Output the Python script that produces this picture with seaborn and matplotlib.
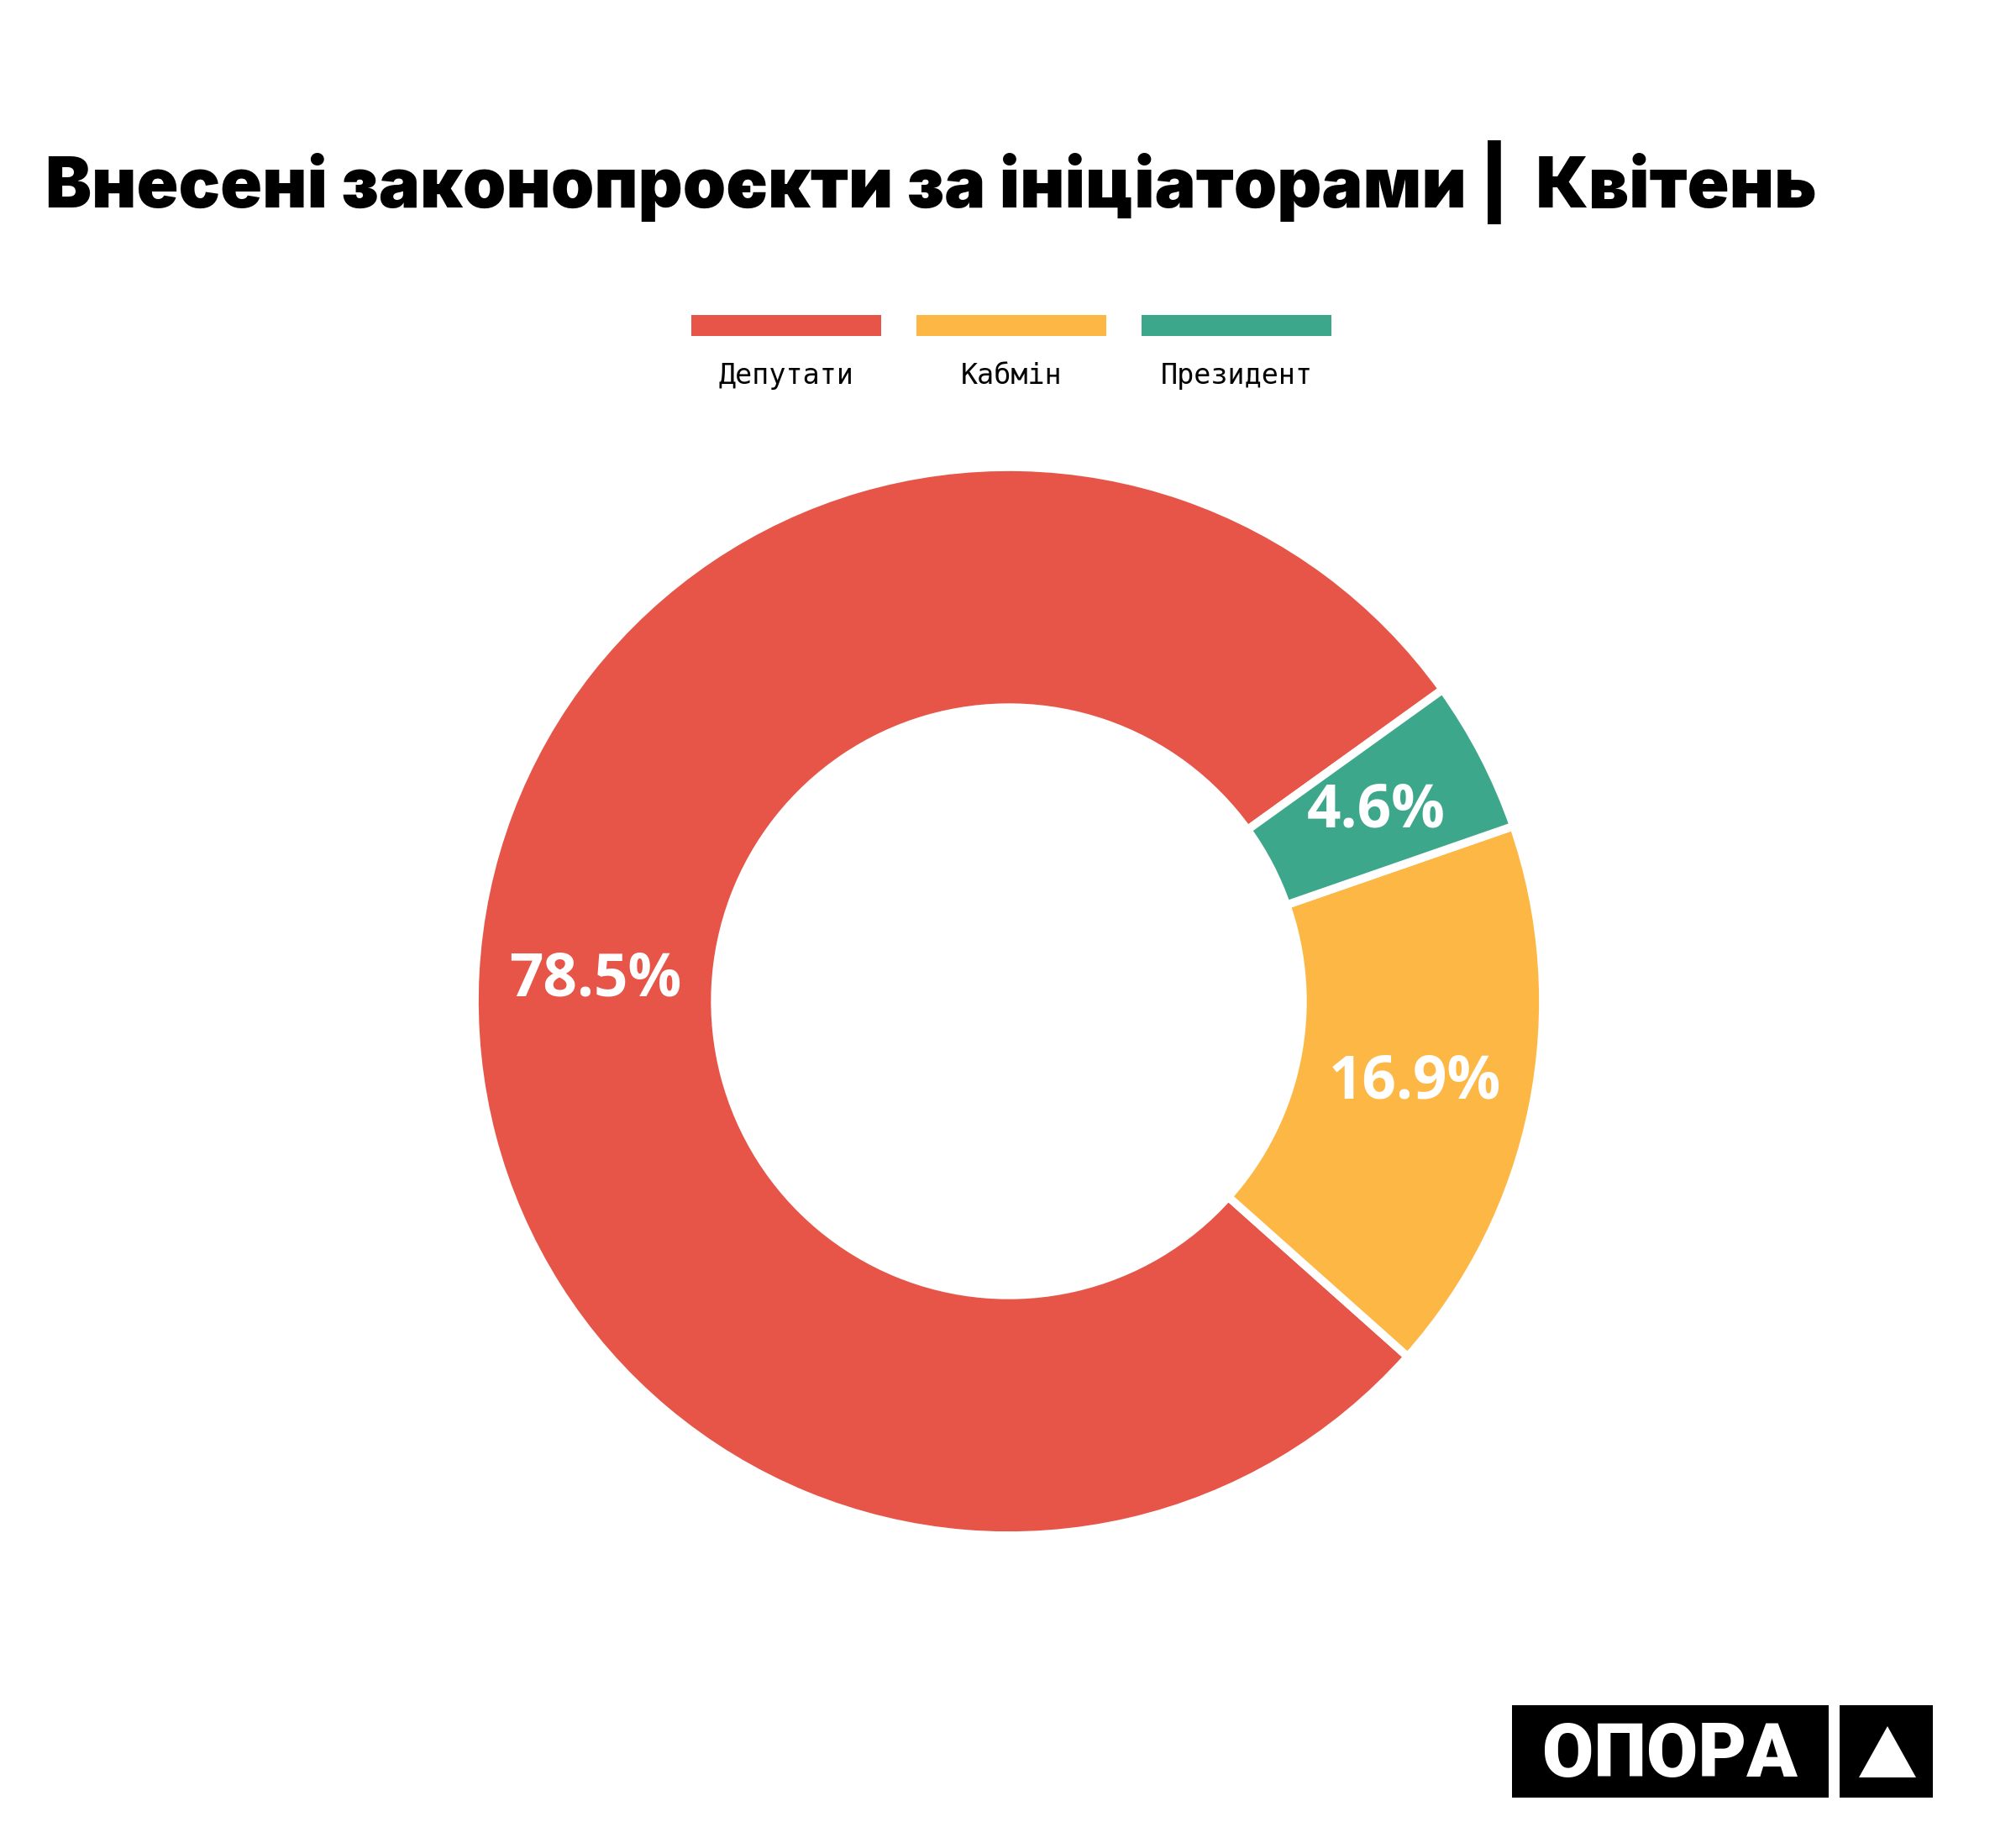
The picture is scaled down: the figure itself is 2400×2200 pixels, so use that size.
import matplotlib
matplotlib.use("Agg")
import matplotlib.pyplot as plt
from matplotlib.patches import Rectangle, Polygon
import seaborn as sns

# data
categories = ["Депутати", "Кабмін", "Президент"]
shares = [78.5, 16.9, 4.6]
colors = ["#E65548", "#FDB745", "#3DA78B"]

title = "Внесені законопроєкти за ініціаторами |  Квітень"

sns.set_theme(style="white")
plt.rcParams['font.family'] = ['DejaVu Sans']

W, H = 2400, 2200
fig = plt.figure(figsize=(W / 100, H / 100), dpi=100)
fig.patch.set_facecolor("white")

# donut
cx, cy, r = 1201, 1192, 636
ax = fig.add_axes([(cx - r) / W, (H - cy - r) / H, 2 * r / W, 2 * r / H])
wedges, texts, autotexts = ax.pie(
    shares,
    colors=sns.color_palette(colors),
    startangle=35.7,
    counterclock=True,
    autopct="%.1f%%",
    pctdistance=0.775,
    wedgeprops=dict(width=0.45, edgecolor="white", linewidth=7),
    textprops=dict(color="white", fontsize=51, fontweight="bold",
                   family=["Open Sans", "DejaVu Sans"]),
)
for w in wedges:
    w.set_clip_on(False)
ax.set_xlim(-1, 1)
ax.set_ylim(-1, 1)
ax.set_aspect("equal")
ax.axis("off")

# title
fig.text(54 / W, 1 - 247 / H, title, fontsize=59.3, fontweight="black",
         family=["Inter", "DejaVu Sans"], ha="left", va="baseline", color="black")

# legend: colour bar with label underneath
bar_w, bar_h, gap = 226, 25, 42
x0 = 823
for i, (name, col) in enumerate(zip(categories, colors)):
    left = x0 + i * (bar_w + gap)
    fig.patches.append(Rectangle((left / W, 1 - 400 / H), bar_w / W, bar_h / H,
                                 transform=fig.transFigure, facecolor=col,
                                 edgecolor="none"))
    fig.text((left + bar_w / 2) / W, 1 - 457 / H, name, fontsize=24,
             family=["DejaVu Sans Mono"], ha="center", va="baseline",
             color="black")

# logo
fig.patches.append(Rectangle((1800 / W, 1 - 2140 / H), 377 / W, 110 / H,
                             transform=fig.transFigure, facecolor="black",
                             edgecolor="none"))
fig.patches.append(Rectangle((2190 / W, 1 - 2140 / H), 111 / W, 110 / H,
                             transform=fig.transFigure, facecolor="black",
                             edgecolor="none"))
fig.text(1988 / W, 1 - 2115 / H, "ОПОРА", fontsize=64, fontweight="black",
         family=["Roboto", "DejaVu Sans"],
         ha="center", va="baseline", color="white")
fig.patches.append(Polygon([(2213 / W, 1 - 2116 / H), (2281 / W, 1 - 2116 / H),
                            (2247 / W, 1 - 2055 / H)], closed=True,
                           transform=fig.transFigure, facecolor="white",
                           edgecolor="none"))

fig.savefig("out.png", dpi=100, facecolor="white")
